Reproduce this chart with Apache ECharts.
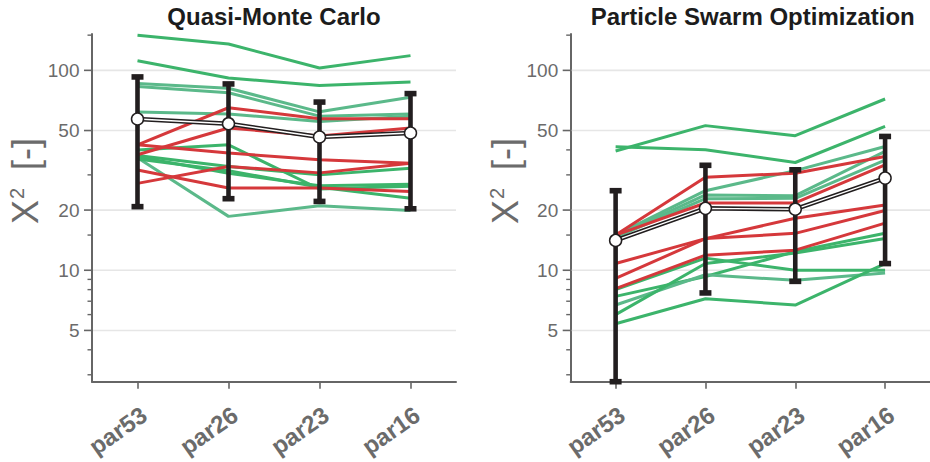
<!DOCTYPE html>
<html>
<head>
<meta charset="utf-8">
<script src="https://cdn.jsdelivr.net/npm/echarts@6/dist/echarts.min.js"></script>
<style>
  html, body { margin: 0; padding: 0; background: #ffffff; }
  #chart { width: 930px; height: 462px; }
</style>
</head>
<body>
<div id="chart"></div>
<script>
// ---------------- data ----------------
const categories = ['par53', 'par26', 'par23', 'par16'];
const panelTitles = ['Quasi-Monte Carlo', 'Particle Swarm Optimization'];
const yAxisTitle = 'X{sup|2} [-]';

const yTickValues = [5, 10, 20, 50, 100];
const yTickLabels = ['5', '10', '20', '50', '100'];
const yMinorTickValues = [3, 4, 6, 7, 8, 9, 15, 30, 40, 150];
const yRangeMin = 2.77;
const yRangeMax = 152;

// Quasi-Monte Carlo: one entry per model, values at par53, par26, par23, par16
const qmcLines = [
  [150, 135.5, 102.8, 118.5],
  [111.8, 91.6, 84.1, 87.5],
  [86, 81.4, 62, 73.4],
  [83, 77.3, 59, 60.5],
  [61.9, 60.5, 55.5, 58.9],
  [40, 42.4, 25.5, 26.3],
  [36.5, 18.6, 21.0, 19.9],
  [37.5, 33, 30, 32.4],
  [37, 30.6, 26.5, 26.9],
  [36, 31.5, 26, 22.9],
  [42.4, 65, 57.3, 57.3],
  [37.8, 51.5, 47, 51.5],
  [42.4, 38.6, 35.7, 34.3],
  [31.7, 25.8, 25.8, 24.8],
  [27.2, 33, 30.7, 34.3]
];
const qmcGroups = ['green', 'green', 'teal', 'teal', 'teal', 'green', 'teal', 'green', 'green', 'green',
                   'red', 'red', 'red', 'red', 'red'];
const qmcMean = [57.1, 54.1, 46.4, 48.6];
const qmcErrLow = [20.8, 22.8, 22.1, 20.3];
const qmcErrHigh = [92.7, 85.5, 69.4, 76.5];

// Particle Swarm Optimization
const psoLines = [
  [39.5, 52.9, 47.1, 71.9],
  [41.5, 40.1, 34.6, 52.4],
  [15.0, 25.0, 31.5, 41.6],
  [14.8, 23.8, 23.6, 39.3],
  [14.6, 22.8, 22.9, 35.6],
  [8.0, 11.5, 10.0, 10.0],
  [7.4, 9.3, 12.4, 15.3],
  [6.7, 9.5, 8.9, 9.7],
  [6.0, 10.8, 12.2, 14.4],
  [5.4, 7.2, 6.7, 10.8],
  [15.0, 29.2, 30.6, 37.1],
  [15.0, 21.7, 21.7, 33.7],
  [10.8, 14.4, 18.2, 21.2],
  [9.1, 14.4, 15.3, 19.9],
  [8.1, 11.9, 12.6, 17.2]
];
const psoGroups = ['green', 'green', 'teal', 'teal', 'teal', 'green', 'green', 'teal', 'green', 'green',
                   'red', 'red', 'red', 'red', 'red'];
const psoMean = [14.1, 20.4, 20.2, 28.9];
const psoErrLow = [2.77, 7.7, 8.8, 10.8];
const psoErrHigh = [25.0, 33.5, 31.8, 46.7];

// ---------------- style ----------------
const FONT = "'Liberation Sans', Arial, Helvetica, sans-serif";
const AXIS = '#666666';
const LABEL = '#6b6b6b';
const GRID = '#e6e6e6';
const BLACK = '#221e1f';
const groupColor = { green: '#3cb46b', teal: '#5bb98a', red: '#d5383b' };

const panels = [
  { lines: qmcLines, groups: qmcGroups, mean: qmcMean, lo: qmcErrLow, hi: qmcErrHigh },
  { lines: psoLines, groups: psoGroups, mean: psoMean, lo: psoErrLow, hi: psoErrHigh }
];

const gridLefts = [92, 570.7];
const GRID_TOP = 34, GRID_W = 364, GRID_H = 347.7;

function renderMajor(params, api) {
  const cs = params.coordSys;
  const y = api.coord([0, api.value(1)])[1];
  return {
    type: 'group',
    children: [
      { type: 'line', shape: { x1: cs.x + 1, y1: y, x2: cs.x + cs.width, y2: y },
        style: { stroke: GRID, lineWidth: 1.6 }, z2: 0 },
      { type: 'line', shape: { x1: cs.x - 8, y1: y, x2: cs.x, y2: y },
        style: { stroke: AXIS, lineWidth: 1.6 } },
      { type: 'text', x: cs.x - 12.5, y: y,
        style: { text: yTickLabels[params.dataIndex], align: 'right', verticalAlign: 'middle',
                 fontSize: 19, fontFamily: FONT, fill: LABEL } }
    ]
  };
}
function renderMinor(params, api) {
  const cs = params.coordSys;
  const y = api.coord([0, api.value(1)])[1];
  return { type: 'line', shape: { x1: cs.x - 4.5, y1: y, x2: cs.x, y2: y },
           style: { stroke: AXIS, lineWidth: 1.4 } };
}
function renderErr(params, api) {
  const i = api.value(0);
  const lo = api.coord([i, api.value(1)]);
  const hi = api.coord([i, api.value(2)]);
  return {
    type: 'group',
    children: [
      { type: 'line', shape: { x1: lo[0], y1: lo[1], x2: hi[0], y2: hi[1] },
        style: { stroke: BLACK, lineWidth: 4.6 } },
      { type: 'rect', shape: { x: lo[0] - 6, y: lo[1] - 2.8, width: 12, height: 5.6 }, style: { fill: BLACK } },
      { type: 'rect', shape: { x: hi[0] - 6, y: hi[1] - 2.8, width: 12, height: 5.6 }, style: { fill: BLACK } }
    ]
  };
}

const grids = [], xAxes = [], yAxes = [], series = [], titles = [], graphics = [];
panels.forEach((p, k) => {
  grids.push({ left: gridLefts[k], top: GRID_TOP, width: GRID_W, height: GRID_H, containLabel: false });
  xAxes.push({
    type: 'category', gridIndex: k, data: categories, boundaryGap: true,
    axisLine: { show: true, onZero: false, lineStyle: { color: AXIS, width: 2 } },
    axisTick: { show: true, alignWithLabel: true, length: 7, lineStyle: { color: AXIS, width: 1.6 } },
    axisLabel: { rotate: 35, fontSize: 24, fontWeight: 'bold', color: LABEL, fontFamily: FONT,
                 margin: 35, padding: [0, -8, 0, 0], interval: 0 },
    splitLine: { show: false }
  });
  yAxes.push({
    type: 'log', logBase: 10, gridIndex: k, min: yRangeMin, max: yRangeMax,
    axisLine: { show: true, lineStyle: { color: AXIS, width: 2 } },
    axisTick: { show: false }, axisLabel: { show: false },
    splitLine: { show: false }, minorTick: { show: false }, minorSplitLine: { show: false }
  });
  titles.push({
    text: panelTitles[k], left: gridLefts[k] + GRID_W / 2, top: 4, textAlign: 'center', padding: 0,
    textStyle: { fontSize: 24, fontWeight: 'bold', color: '#1c1c1c', fontFamily: FONT }
  });
  graphics.push({
    type: 'text', x: k === 0 ? 25 : 505, y: 181, rotation: Math.PI / 2,
    style: { text: yAxisTitle, fontSize: 36, fontFamily: FONT, fill: LABEL, align: 'center', verticalAlign: 'middle',
             rich: { sup: { fontSize: 20, fontFamily: FONT, fill: LABEL, verticalAlign: 'top', padding: [0, 8, 0, 1] } } }
  });

  series.push({
    type: 'custom', xAxisIndex: k, yAxisIndex: k, z: 1, silent: true, clip: false,
    renderItem: renderMajor, data: yTickValues.map(v => [0, v])
  });
  series.push({
    type: 'custom', xAxisIndex: k, yAxisIndex: k, z: 1, silent: true, clip: false,
    renderItem: renderMinor, data: yMinorTickValues.map(v => [0, v])
  });
  p.lines.forEach((vals, j) => {
    series.push({
      type: 'line', xAxisIndex: k, yAxisIndex: k, data: vals, symbol: 'none', silent: true, clip: false,
      z: p.groups[j] === 'red' ? 3 : 2,
      lineStyle: { color: groupColor[p.groups[j]], width: 3 }
    });
  });
  series.push({
    type: 'custom', xAxisIndex: k, yAxisIndex: k, z: 4, silent: true, clip: false,
    renderItem: renderErr, data: categories.map((c, i) => [i, p.lo[i], p.hi[i]])
  });
  series.push({
    type: 'line', xAxisIndex: k, yAxisIndex: k, data: p.mean, symbol: 'none', silent: true, z: 5,
    lineStyle: { color: BLACK, width: 4.5 }
  });
  series.push({
    type: 'line', xAxisIndex: k, yAxisIndex: k, data: p.mean, symbol: 'circle', symbolSize: 12, silent: true, z: 6,
    lineStyle: { color: '#ffffff', width: 1.4 },
    itemStyle: { color: '#ffffff', borderColor: BLACK, borderWidth: 1.5 }
  });
});

const chart = echarts.init(document.getElementById('chart'), null, { renderer: 'svg' });
chart.setOption({
  animation: false,
  backgroundColor: '#ffffff',
  title: titles,
  grid: grids,
  xAxis: xAxes,
  yAxis: yAxes,
  graphic: graphics,
  series: series
});
</script>
</body>
</html>
